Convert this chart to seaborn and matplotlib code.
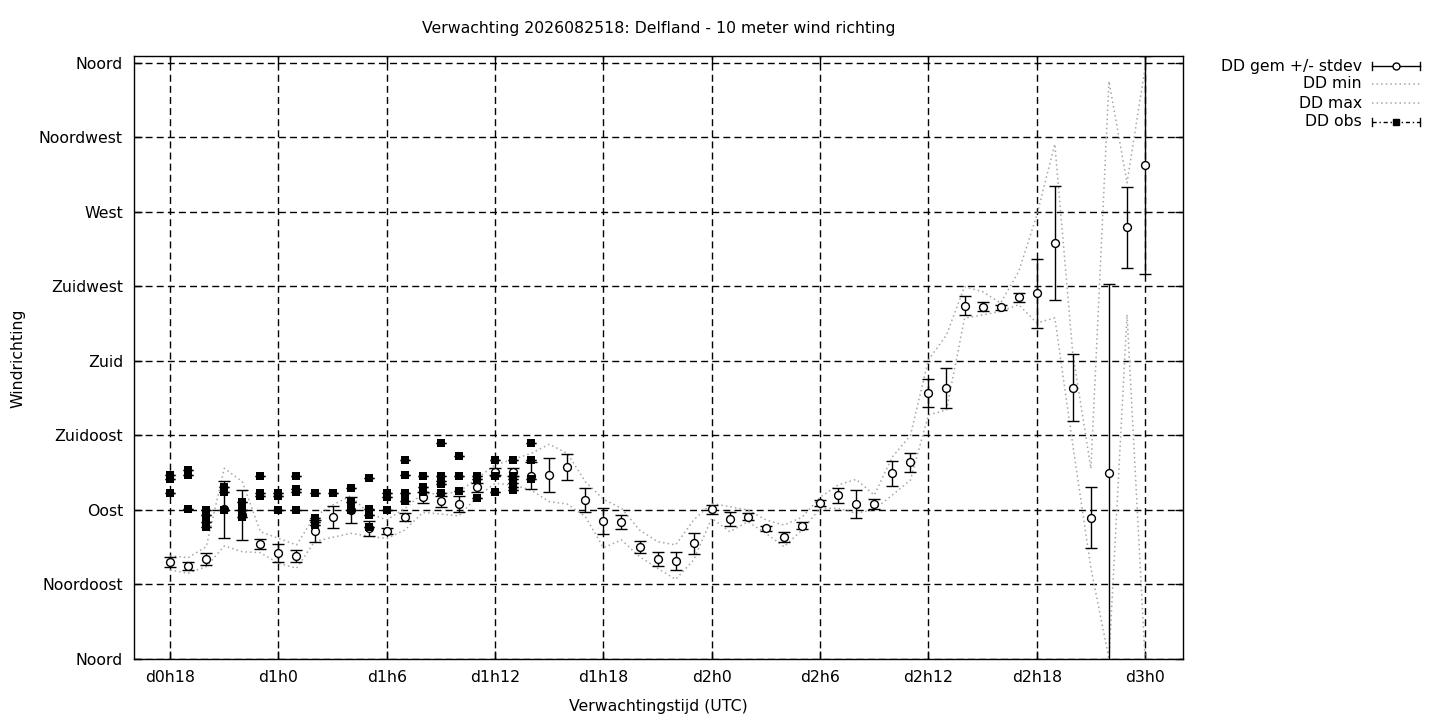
import matplotlib
matplotlib.use("Agg")
import matplotlib.pyplot as plt
from matplotlib.lines import Line2D
import seaborn as sns
import pandas as pd

# ---------------- data ----------------
hours = list(range(18, 73))  # forecast hour (d0h18 .. d3h0)

dd_mean = [58.6, 56.2, 60.4, 90.3, 87.0, 69.3, 63.8, 62.2, 77.3, 85.8,
           90.0, 79.0, 77.3, 85.8, 97.8, 95.2, 93.6, 103.7, 113.0, 113.0,
           110.8, 111.0, 115.8, 95.9, 83.3, 82.5, 67.5, 60.2, 59.0, 69.9,
           90.4, 84.4, 86.0, 79.0, 73.5, 80.5, 94.0, 99.0, 93.6, 93.6,
           112.2, 118.8, 160.8, 163.9, 213.5, 212.8, 212.3, 218.4, 220.8, 251.0,
           163.9, 85.4, 112.6, 260.7, 298.4]

dd_std = [3.2, 2.5, 3.5, 17.2, 15.1, 3.0, 5.4, 3.6, 6.6, 6.9,
          7.9, 4.5, 2.1, 2.4, 3.3, 3.3, 4.8, 2.7, 2.1, 2.4,
          8.2, 10.3, 7.9, 7.2, 7.9, 4.2, 3.6, 4.2, 5.4, 6.3,
          2.7, 4.2, 2.1, 1.5, 3.0, 2.1, 1.8, 4.5, 8.2, 3.0,
          7.5, 5.7, 8.4, 12.0, 5.5, 2.8, 1.5, 2.9, 20.8, 34.4,
          20.2, 18.5, 113.8, 24.5, 65.9]

dd_min = [53.8, 51.8, 55.8, 68.3, 64.8, 64.2, 57.8, 54.8, 70.9, 73.5,
          75.9, 74.3, 72.7, 77.9, 88.5, 87.6, 86.4, 98.0, 106.1, 105.1,
          102.0, 95.0, 93.6, 86.0, 67.2, 71.9, 61.8, 54.8, 48.1, 59.8,
          85.0, 76.9, 82.9, 75.9, 67.8, 77.9, 91.0, 91.0, 88.0, 90.4,
          99.0, 108.0, 147.4, 150.4, 205.8, 207.8, 210.0, 214.0, 203.0, 206.0,
          129.0, 54.8, 0.0, 208.0, 0.0]

dd_max = [62.4, 61.2, 67.8, 115.2, 107.1, 76.9, 72.9, 68.9, 86.0, 93.0,
          98.5, 88.0, 84.0, 91.0, 100.0, 99.7, 101.0, 109.1, 117.2, 120.6,
          124.2, 129.7, 124.2, 107.1, 96.5, 91.0, 77.9, 70.9, 68.9, 84.0,
          94.0, 92.0, 90.0, 84.0, 80.9, 85.6, 97.7, 105.1, 108.5, 99.0,
          122.0, 135.0, 180.6, 195.7, 224.9, 221.9, 215.0, 234.0, 268.0, 311.0,
          184.0, 115.0, 349.0, 287.6, 357.0]

obs_hours = [18, 18, 18,
             19, 19, 19,
             20, 20, 20, 20,
             21, 21, 21,
             22, 22, 22,
             23, 23, 23,
             24, 24, 24,
             25, 25, 25, 25,
             26, 26, 26, 26,
             27,
             28, 28, 28,
             29, 29, 29, 29,
             30, 30, 30,
             31, 31, 31, 31,
             32, 32, 32,
             33, 33, 33, 33, 33,
             34, 34, 34,
             35, 35, 35,
             36, 36, 36,
             37, 37, 37, 37, 37, 37,
             38, 38, 38]
obs_values = [111.0, 109.0, 100.3,
              114.2, 111.1, 90.4,
              90.0, 87.0, 83.0, 80.0,
              104.0, 101.0, 90.0,
              95.0, 90.0, 86.0,
              110.5, 100.0, 98.5,
              100.0, 98.5, 90.0,
              110.5, 102.5, 101.0, 90.0,
              100.3, 85.0, 83.0, 81.0,
              100.3,
              103.0, 95.0, 90.0,
              109.5, 90.5, 87.0, 80.0,
              100.3, 98.0, 90.0,
              120.2, 111.0, 100.0, 95.4,
              110.5, 104.0, 101.0,
              130.7, 110.5, 107.5, 105.5, 100.3,
              122.6, 110.5, 101.5,
              110.5, 108.5, 97.0,
              120.0, 110.5, 101.0,
              120.0, 110.5, 108.5, 106.0, 104.0, 102.0,
              130.7, 120.0, 109.0]

xtick_pos = [18, 24, 30, 36, 42, 48, 54, 60, 66, 72]
xtick_labels = ["d0h18", "d1h0", "d1h6", "d1h12", "d1h18",
                "d2h0", "d2h6", "d2h12", "d2h18", "d3h0"]
ytick_pos = [0, 45, 90, 135, 180, 225, 270, 315, 360]
ytick_labels = ["Noord", "Noordoost", "Oost", "Zuidoost", "Zuid",
                "Zuidwest", "West", "Noordwest", "Noord"]

title = "Verwachting 2026082518: Delfland - 10 meter wind richting"
legend_labels = ["DD gem +/- stdev", "DD min", "DD max", "DD obs"]

fc_df = pd.DataFrame({"uur": hours, "gem": dd_mean, "std": dd_std,
                      "min": dd_min, "max": dd_max})
obs_df = pd.DataFrame({"uur": obs_hours, "dd": obs_values})

# ---------------- figure ----------------
plt.rcParams["font.family"] = ["DejaVu Sans"]
FS = 11.3
W, H = 1440, 720
fig = plt.figure(figsize=(W / 100, H / 100), dpi=100)
L, R, T, B = 134, 1183, 56, 659
ax = fig.add_axes([L / W, 1 - B / H, (R - L) / W, (B - T) / H])

dot_col = "#a6a6a6"
sns.lineplot(data=fc_df, x="uur", y="min", ax=ax, color=dot_col,
             linestyle=(0, (1, 2)), linewidth=1.1, zorder=2)
sns.lineplot(data=fc_df, x="uur", y="max", ax=ax, color=dot_col,
             linestyle=(0, (1, 2)), linewidth=1.1, zorder=2)

ax.errorbar(fc_df["uur"], fc_df["gem"], yerr=fc_df["std"], fmt="none",
            ecolor="black", elinewidth=1.0, capsize=4, capthick=1.0, zorder=3)
sns.scatterplot(data=fc_df, x="uur", y="gem", ax=ax, marker="o", s=32,
                facecolor="white", edgecolor="black", linewidth=1.0, zorder=4)

ax.errorbar(obs_df["uur"], obs_df["dd"], yerr=0, fmt="none", ecolor="black",
            elinewidth=1.0, capsize=3.5, capthick=1.0, zorder=5)
sns.scatterplot(data=obs_df, x="uur", y="dd", ax=ax, marker="s", s=30,
                color="black", edgecolor="black", linewidth=0, zorder=6)

ax.set_xlim(16.0, 74.1)
ax.set_ylim(0, 364.2)
ax.set_xticks(xtick_pos)
ax.set_xticklabels(xtick_labels, fontsize=FS)
ax.set_yticks(ytick_pos)
ax.set_yticklabels(ytick_labels, fontsize=FS)
ax.tick_params(direction="in", top=True, right=True, length=6, width=1,
               pad=8, colors="black")
ax.grid(True, color="black", linestyle=(0, (5, 3)), linewidth=1.0)
ax.set_axisbelow(True)
for s in ax.spines.values():
    s.set_linewidth(1.0)
    s.set_color("black")
ax.set_xlabel("")
ax.set_ylabel("")

fig.text((L + R) / 2 / W, 1 - 29 / H, title, ha="center", va="center",
         fontsize=FS)
fig.text((L + R) / 2 / W, 1 - 707 / H, "Verwachtingstijd (UTC)",
         ha="center", va="center", fontsize=FS)
fig.text(18 / W, 1 - 358 / H, "Windrichting", ha="center", va="center",
         rotation=90, fontsize=FS)

# ---------------- legend (gnuplot style, right of plot) ----------------
rows = [66, 84, 103, 122]
x0, x1, xt = 1372, 1420, 1362
tf = fig.transFigure
def fx(px):
    return px / W
def fy(py):
    return 1 - py / H

for lab, yy in zip(legend_labels, rows):
    fig.text(fx(xt), fy(yy), lab, ha="right", va="center", fontsize=FS)

# gem +/- stdev
y = rows[0]
fig.add_artist(Line2D([fx(x0), fx(x1)], [fy(y), fy(y)], color="black", lw=1.0, transform=tf))
for xx in (x0, x1):
    fig.add_artist(Line2D([fx(xx), fx(xx)], [fy(y - 4), fy(y + 4)], color="black", lw=1.0, transform=tf))
fig.add_artist(Line2D([fx((x0 + x1) / 2)], [fy(y)], marker="o", ms=5, mfc="white",
                      mec="black", mew=1.0, linestyle="none", transform=tf))
# min / max
for y in rows[1:3]:
    fig.add_artist(Line2D([fx(x0), fx(x1)], [fy(y), fy(y)], color=dot_col, lw=1.1,
                          linestyle=(0, (1, 2)), transform=tf))
# obs
y = rows[3]
fig.add_artist(Line2D([fx(x0), fx(x1)], [fy(y), fy(y)], color="black", lw=1.0,
                      linestyle=(0, (3, 2, 1, 2)), transform=tf))
for xx in (x0, x1):
    fig.add_artist(Line2D([fx(xx), fx(xx)], [fy(y - 4), fy(y + 4)], color="black", lw=1.0, transform=tf))
fig.add_artist(Line2D([fx((x0 + x1) / 2)], [fy(y)], marker="s", ms=5, mfc="black",
                      mec="black", linestyle="none", transform=tf))

fig.savefig("out.png", dpi=100)
